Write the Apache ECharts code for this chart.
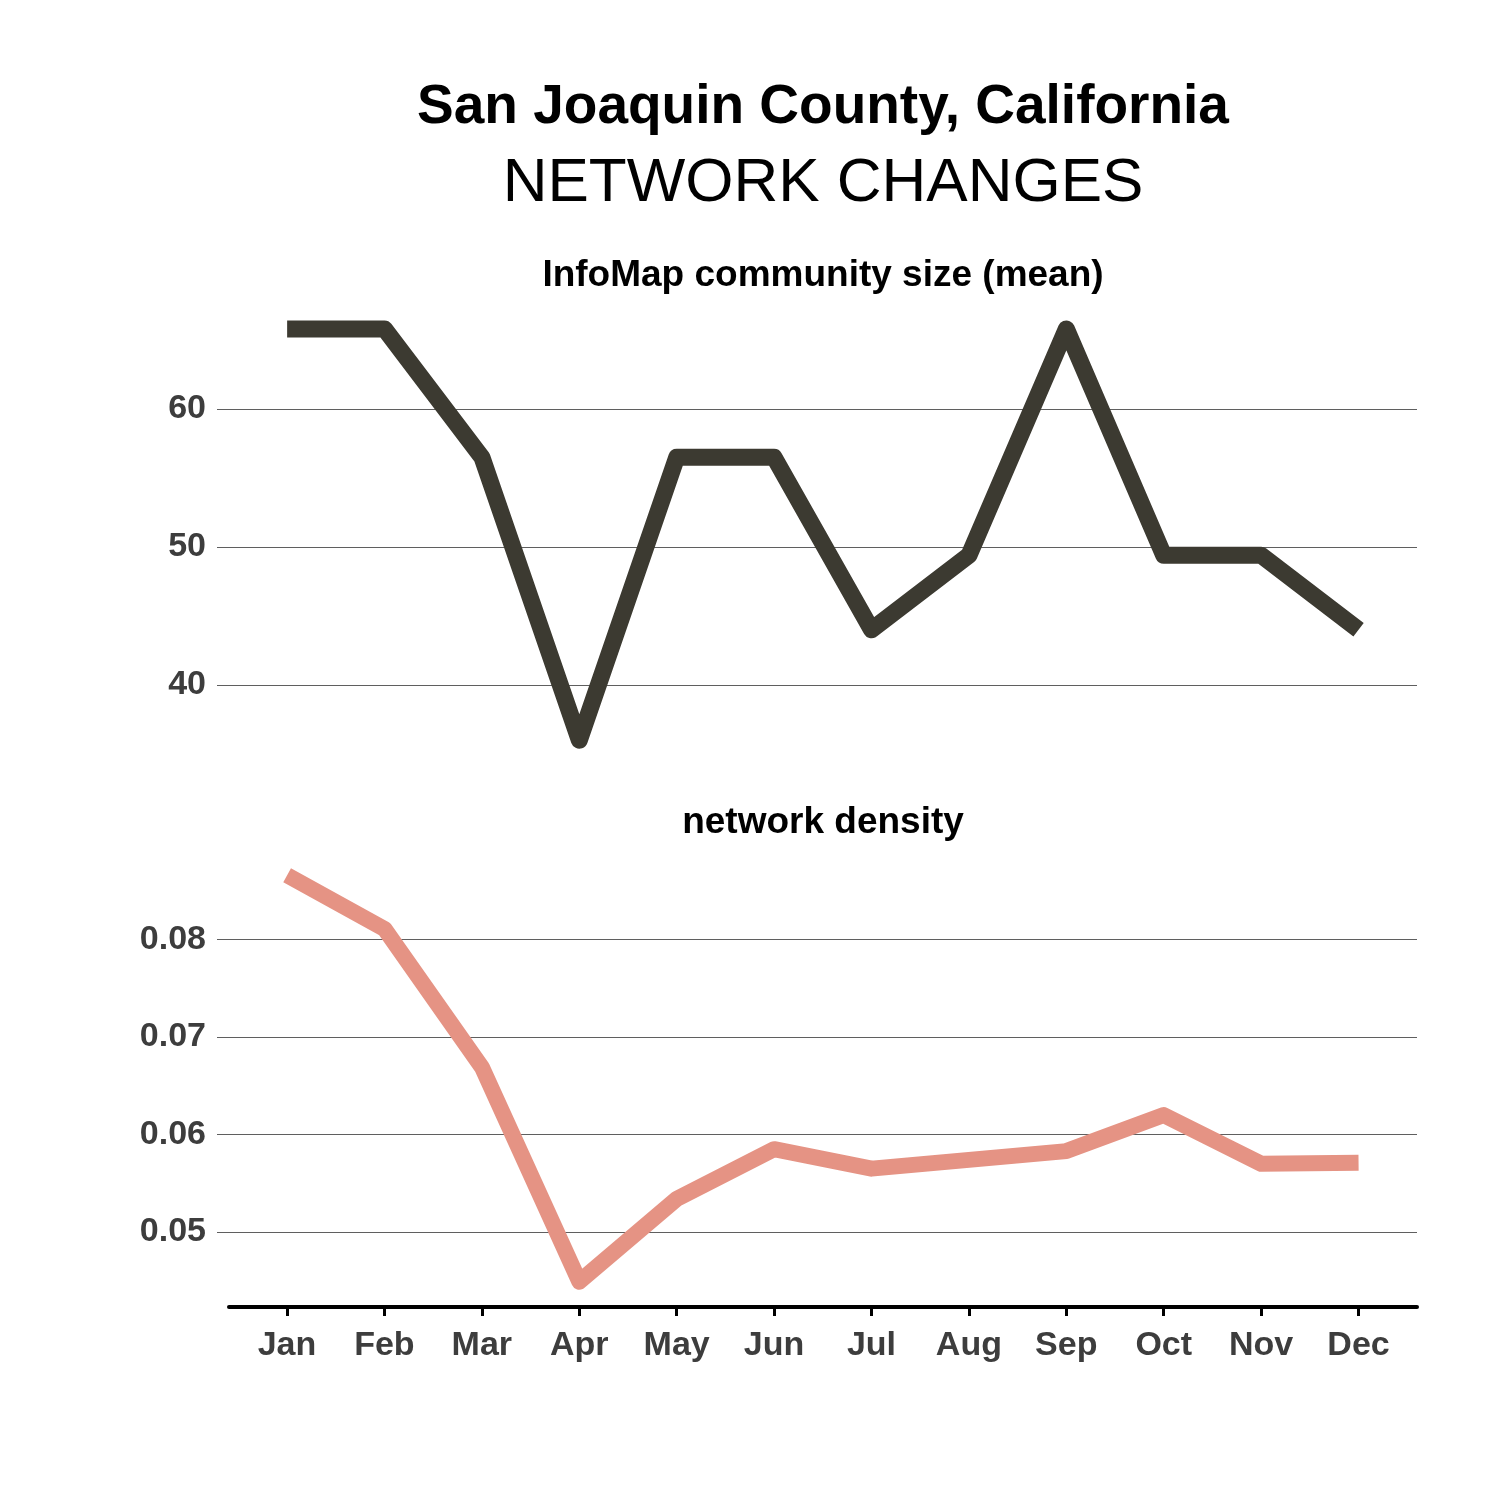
<!DOCTYPE html>
<html>
<head>
<meta charset="utf-8">
<script src="https://cdn.jsdelivr.net/npm/echarts@6/dist/echarts.min.js"></script>
<style>
  html, body { margin: 0; padding: 0; background: #fff; }
  #chart { width: 1500px; height: 1500px; }
</style>
</head>
<body>
<div id="chart"></div>
<script>
const months = ["Jan", "Feb", "Mar", "Apr", "May", "Jun", "Jul", "Aug", "Sep", "Oct", "Nov", "Dec"];
const communitySize = [65.8, 65.8, 56.5, 36.0, 56.5, 56.5, 44.0, 49.4, 65.8, 49.4, 49.4, 44.0];
const networkDensity = [0.0866, 0.0811, 0.0669, 0.0449, 0.0534, 0.0585, 0.0565, 0.0574, 0.0583, 0.0620, 0.0570, 0.0571];
const sizeTicks = [40, 50, 60];
const densityTicks = [0.05, 0.06, 0.07, 0.08];

const FONT = "'Liberation Sans', Arial, Helvetica, sans-serif";
const monthIdx = months.map((_, i) => i);

const chart = echarts.init(document.getElementById("chart"), null, { renderer: "canvas" });

const yLabel = {
    color: "#3d3d3d",
    fontSize: 34,
    fontWeight: "bold",
    fontFamily: FONT,
    margin: 11
};

const option = {
    animation: false,
    backgroundColor: "#ffffff",
    graphic: [
        { type: "text", x: 823, y: 108, style: { text: "San Joaquin County, California", fill: "#000", font: "bold 55px " + FONT, textAlign: "center", textVerticalAlign: "middle" } },
        { type: "text", x: 823, y: 184, style: { text: "NETWORK CHANGES", fill: "#000", font: "62px " + FONT, textAlign: "center", textVerticalAlign: "middle" } },
        { type: "text", x: 823, y: 276, style: { text: "InfoMap community size (mean)", fill: "#000", font: "bold 37px " + FONT, textAlign: "center", textVerticalAlign: "middle" } },
        { type: "text", x: 823, y: 823, style: { text: "network density", fill: "#000", font: "bold 37px " + FONT, textAlign: "center", textVerticalAlign: "middle" } }
    ],
    grid: [
        { left: 217, right: 83, top: 300, height: 470 },
        { left: 217, right: 83, top: 850, bottom: 193 },
        // month axis only; starts a little right of the gridlines
        { left: 229, right: 83, top: 850, bottom: 193 }
    ],
    xAxis: [
        { gridIndex: 0, type: "value", min: -0.72, max: 11.6, show: false },
        { gridIndex: 1, type: "value", min: -0.72, max: 11.6, show: false },
        {
            gridIndex: 2,
            type: "value",
            min: -0.595,
            max: 11.6,
            splitLine: { show: false },
            axisLine: { show: true, onZero: false, lineStyle: { color: "#000", width: 4 } },
            axisTick: { show: true, length: 9, lineStyle: { color: "#000", width: 3 }, customValues: monthIdx },
            axisLabel: {
                customValues: monthIdx,
                formatter: v => months[Math.round(v)],
                color: "#3d3d3d",
                fontSize: 34,
                fontWeight: "bold",
                fontFamily: FONT,
                margin: 22
            }
        }
    ],
    yAxis: [
        {
            gridIndex: 0,
            type: "value",
            min: 33.84,
            max: 67.9,
            axisLine: { show: false },
            axisTick: { show: false, customValues: sizeTicks },
            axisLabel: Object.assign({ customValues: sizeTicks, formatter: v => String(Math.round(v)) }, yLabel),
            splitLine: { show: true, lineStyle: { color: "#5f5f5f", width: 1 } }
        },
        {
            gridIndex: 1,
            type: "value",
            min: 0.0423,
            max: 0.0892,
            axisLine: { show: false },
            axisTick: { show: false, customValues: densityTicks },
            axisLabel: Object.assign({ customValues: densityTicks, formatter: v => v.toFixed(2) }, yLabel),
            splitLine: { show: true, lineStyle: { color: "#5f5f5f", width: 1 } }
        },
        { gridIndex: 2, type: "value", min: 0.0423, max: 0.0892, show: false, splitLine: { show: false } }
    ],
    series: [
        {
            name: "InfoMap community size (mean)",
            type: "line",
            xAxisIndex: 0,
            yAxisIndex: 0,
            data: communitySize.map((v, i) => [i, v]),
            symbol: "none",
            lineStyle: { color: "#3c3a31", width: 17, cap: "butt", join: "round" },
            z: 5
        },
        {
            name: "network density",
            type: "line",
            xAxisIndex: 1,
            yAxisIndex: 1,
            data: networkDensity.map((v, i) => [i, v]),
            symbol: "none",
            lineStyle: { color: "#e59384", width: 16, cap: "butt", join: "round" },
            z: 5
        }
    ]
};

chart.setOption(option);
</script>
</body>
</html>
